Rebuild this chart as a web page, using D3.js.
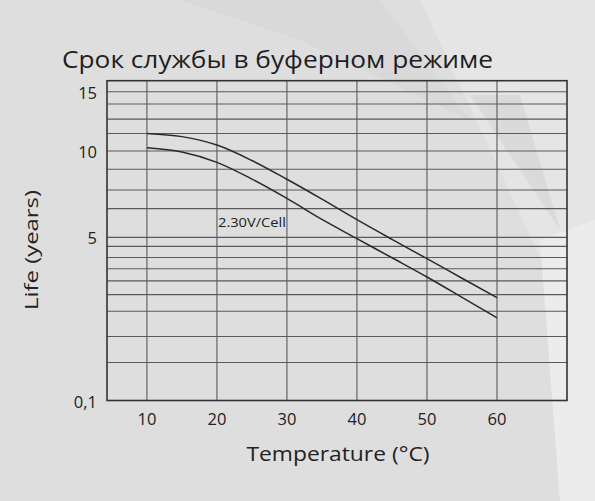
<!DOCTYPE html>
<html><head><meta charset="utf-8">
<script src="https://cdn.jsdelivr.net/npm/d3@7"></script>
<style>html,body{margin:0;padding:0;background:#dfdfdf;}svg{display:block;}</style>
</head><body>
<script>
// ---- data ----
const temps = [10, 15, 20, 25, 30, 35, 40, 45, 50, 55, 60];
const upperLife = [12.0, 11.64, 10.68, 9.48, 8.52, 7.51, 6.23, 4.89, 3.95, 3.11, 2.41];
const lowerLife = [10.37, 9.95, 9.38, 8.53, 7.55, 6.25, 4.93, 3.99, 3.16, 2.42, 1.87];
const xTicks = [10, 20, 30, 40, 50, 60];
const gridValues = [20, 15, 14, 13, 12, 10, 9, 8, 7, 5, 4.5, 4, 3.5, 3, 2.5, 2, 1.5, 1, 0.1];
const gridFractions = [0, 0.0345, 0.073, 0.120, 0.165, 0.220, 0.277, 0.342, 0.400, 0.490, 0.518, 0.553, 0.588, 0.626, 0.669, 0.721, 0.800, 0.881, 1];
const yTickValues = [15, 10, 5, 0.1];
const yTickLabels = ["15", "10", "5", "0,1"];
const title = "Срок службы в буферном режиме";
const seriesLabel = "2.30V/Cell";

const W = 595, H = 501;
const L = 107, R = 567, T = 80.7, B = 400.5;
const svg = d3.select("body").append("svg").attr("width", W).attr("height", H);

// background
svg.append("rect").attr("width", W).attr("height", H).attr("fill", "#dedede");
svg.append("polygon").attr("points", "180,0 380,0 470,120 300,40").attr("fill", "#d9d9d9");
svg.append("polygon").attr("points", "420,0 595,0 595,230 560,300").attr("fill", "#e5e5e5");
svg.append("polygon").attr("points", "540,240 595,220 595,501 560,501").attr("fill", "#ececec");
svg.append("polygon").attr("points", "470,95 520,95 560,230").attr("fill", "#dadada");

const x = d3.scaleLinear().domain([4.3, 70]).range([L, R]);
const y = d3.scaleLinear().domain(gridValues).range(gridFractions.map(f => T + f * (B - T)));

const g = svg.append("g");
g.selectAll("line.h").data(gridValues.slice(1, -1)).join("line")
  .attr("x1", L).attr("x2", R).attr("y1", d => y(d)).attr("y2", d => y(d))
  .attr("stroke", "#5a5a5a").attr("stroke-width", 1.1);
g.selectAll("line.v").data(xTicks).join("line")
  .attr("x1", d => x(d)).attr("x2", d => x(d)).attr("y1", T).attr("y2", B)
  .attr("stroke", "#5a5a5a").attr("stroke-width", 1.1);
g.append("rect").attr("x", L).attr("y", T).attr("width", R - L).attr("height", B - T)
  .attr("fill", "none").attr("stroke", "#333").attr("stroke-width", 1.6);

const line = d3.line().x((d, i) => x(temps[i])).y(d => y(d)).curve(d3.curveMonotoneX);
[upperLife, lowerLife].forEach(s => {
  g.append("path").attr("d", line(s)).attr("fill", "none").attr("stroke", "#2a2a2a").attr("stroke-width", 1.5);
});

const font = "'Open Sans', 'Noto Sans', sans-serif";
svg.selectAll("text.xt").data(xTicks).join("text")
  .attr("x", d => x(d)).attr("y", 425).attr("text-anchor", "middle")
  .attr("font-family", font).attr("font-size", 16.5).attr("fill", "#222").text(d => d);
svg.selectAll("text.yt").data(yTickValues).join("text")
  .attr("x", 97).attr("y", d => y(d) + 7).attr("text-anchor", "end")
  .attr("font-family", font).attr("font-size", 16.5).attr("fill", "#222")
  .text((d, i) => yTickLabels[i]);

svg.append("text").attr("x", 62).attr("y", 68).attr("font-family", font).attr("font-size", 23)
  .attr("fill", "#1e1e1e").attr("textLength", 431).attr("lengthAdjust", "spacingAndGlyphs").text(title);
svg.append("text").attr("x", 218).attr("y", 227).attr("font-family", font).attr("font-size", 13)
  .attr("fill", "#222").attr("textLength", 68).attr("lengthAdjust", "spacingAndGlyphs").text(seriesLabel);
svg.append("text").attr("x", 338).attr("y", 461).attr("text-anchor", "middle").attr("font-family", font)
  .attr("font-size", 20).attr("fill", "#222").attr("textLength", 183).attr("lengthAdjust", "spacingAndGlyphs")
  .text("Temperature (°C)");
svg.append("text").attr("transform", "translate(38,250) rotate(-90)").attr("text-anchor", "middle")
  .attr("font-family", font).attr("font-size", 19).attr("fill", "#222").attr("textLength", 120)
  .attr("lengthAdjust", "spacingAndGlyphs").text("Life (years)");
</script>
</body></html>
